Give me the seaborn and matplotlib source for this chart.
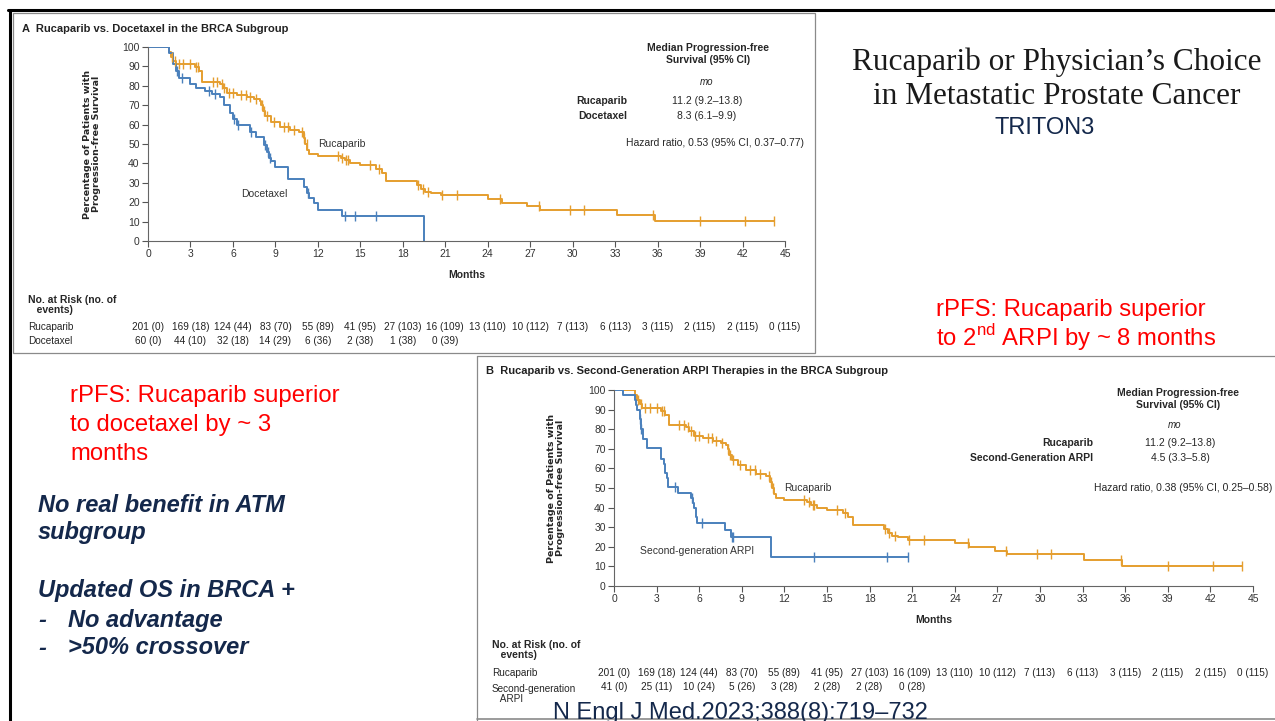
import numpy as np
import pandas as pd
import matplotlib
matplotlib.use("Agg")
import matplotlib.pyplot as plt
import matplotlib.transforms as mtransforms
from matplotlib.lines import Line2D
from matplotlib.patches import Rectangle
import seaborn as sns

# ---------------- data ----------------
months_ticks = list(range(0, 46, 3))
pct_ticks = list(range(0, 101, 10))

# Rucaparib arm (same BRCA cohort in both panels): step times (months) and survival (%)
ruc_t = [0, 1.5, 1.6, 1.8, 2.0, 3.3, 3.6, 3.85, 5.1, 5.3, 5.6, 6.3, 7.0, 7.5, 7.9, 8.0,
         8.1, 8.3, 8.7, 9.3, 10.0, 10.7, 11.0, 11.1, 11.25, 11.4, 12.0, 13.6, 13.9, 14.3,
         15.0, 16.1, 16.5, 16.8, 19.0, 19.3, 19.6, 20.0, 20.7, 24.0, 25.0, 26.8, 27.7,
         33.1, 35.8, 44.2]
ruc_s = [100, 97.5, 95, 93, 91, 89.5, 87.5, 82, 81, 79, 76.5, 75.5, 74, 73, 72, 70,
         67, 64.5, 61.5, 59, 57, 56, 53, 50, 47, 45, 44, 43, 41.5, 40,
         39, 37, 35, 31, 29, 27, 25.5, 25, 23.5, 21.7, 19.8, 18.1, 16.1,
         13.5, 10.1, 10.1]
ruc_cens = [1.7, 1.9, 2.2, 2.5, 3.0, 3.4, 3.5, 4.6, 4.9, 5.2, 5.4, 5.7, 6.0, 6.6, 6.9,
            7.2, 7.6, 8.05, 8.2, 8.4, 8.9, 9.6, 9.9, 10.3, 10.9, 11.05, 11.2, 13.4, 13.7,
            14.0, 14.1, 15.7, 16.3, 19.1, 19.4, 19.8, 20.8, 21.8, 24.9, 27.6, 29.8, 30.8,
            35.7, 39.0, 42.2, 44.2]

# Docetaxel arm
doc_t = [0, 1.5, 1.8, 2.0, 2.2, 3.0, 3.4, 4.0, 4.5, 5.1, 5.4, 5.8, 6.0, 6.3, 7.2, 7.6,
         8.2, 8.4, 8.55, 8.7, 9.0, 9.9, 11.0, 11.2, 11.4, 11.7, 12.0, 13.7, 19.5]
doc_s = [100, 97, 91, 87.5, 84, 81, 79, 77.5, 76, 74, 70, 66, 63, 60, 56, 53.5,
         49.5, 46, 43, 41, 38, 32, 28, 25, 22, 19.5, 16, 12.8, 0]
doc_cens = [2.05, 2.4, 4.3, 4.7, 6.1, 6.35, 7.3, 8.3, 8.45, 8.6, 11.3, 13.9, 14.6, 16.1]

# Second-generation ARPI arm
arpi_t = [0, 0.6, 1.45, 1.55, 1.65, 1.8, 1.9, 2.05, 2.3, 3.3, 3.5, 3.6, 3.7, 3.8, 4.5,
          5.4, 5.55, 5.65, 5.75, 5.85, 7.8, 8.25, 11.05, 20.7]
arpi_s = [100, 97.5, 95, 92.5, 90, 85, 80, 75, 70.5, 65, 62.5, 57.5, 55, 50.5, 47.5,
          45, 42.5, 40, 35, 32, 28.5, 25, 15, 15]
arpi_cens = [1.8, 1.9, 4.3, 5.5, 6.2, 8.3, 8.4, 14.1, 19.2, 20.7]

# Number at risk (no. of events) at 0, 3, 6, ... months
risk_ruc = ["201 (0)", "169 (18)", "124 (44)", "83 (70)", "55 (89)", "41 (95)", "27 (103)",
            "16 (109)", "13 (110)", "10 (112)", "7 (113)", "6 (113)", "3 (115)", "2 (115)",
            "2 (115)", "0 (115)"]
risk_doc = ["60 (0)", "44 (10)", "32 (18)", "14 (29)", "6 (36)", "2 (38)", "1 (38)", "0 (39)"]
risk_arpi = ["41 (0)", "25 (11)", "10 (24)", "5 (26)", "3 (28)", "2 (28)", "2 (28)", "0 (28)"]

ORANGE = "#E59E2E"
BLUE = "#4A80BC"
NAVY = "#14284B"
RED = "#FF0000"

# ---------------- style ----------------
sns.set_style("ticks")
plt.rcParams["font.family"] = ["Liberation Sans Narrow", "Liberation Sans", "DejaVu Sans"]
NARROW = ["Liberation Sans Narrow", "Liberation Sans", "DejaVu Sans"]
ARIAL = ["Liberation Sans", "DejaVu Sans"]

W, H = 1275, 721
fig = plt.figure(figsize=(W / 100, H / 100), dpi=100)
fig.patch.set_facecolor("white")


def P(x, y):
    return x / W, 1 - y / H


def ftext(x, y, s, **kw):
    fx, fy = P(x, y)
    return fig.text(fx, fy, s, **kw)


def step_df(t, s):
    return pd.DataFrame({"months": t, "pct": s})


def cens_df(t, s, c):
    t = np.asarray(t)
    s = np.asarray(s)
    idx = np.searchsorted(t, np.asarray(c), side="right") - 1
    return pd.DataFrame({"months": c, "pct": s[idx]})


def km_axes(box, arms, table, labels, yl_x):
    x0, y0, x1, y1 = box
    fx0, fy1 = P(x0, y1)
    ax = fig.add_axes([fx0, fy1, (x1 - x0) / W, (y1 - y0) / H])
    for t, s, c, col in arms:
        sns.lineplot(data=step_df(t, s), x="months", y="pct", ax=ax, color=col,
                     drawstyle="steps-post", estimator=None, sort=False, lw=1.4)
        sns.scatterplot(data=cens_df(t, s, c), x="months", y="pct", ax=ax, color=col,
                        marker="|", s=45, linewidth=1.0, zorder=3)
    ax.set_xlim(0, 45)
    ax.set_ylim(0, 100)
    ax.set_xticks(months_ticks)
    ax.set_yticks(pct_ticks)
    ax.tick_params(direction="out", length=4, width=0.8, colors="#555555",
                   labelcolor="#333333", labelsize=7.5, pad=2)
    for lab in ax.get_xticklabels() + ax.get_yticklabels():
        lab.set_family(NARROW)
    sns.despine(ax=ax)
    for sp in ("left", "bottom"):
        ax.spines[sp].set_color("#666666")
        ax.spines[sp].set_linewidth(0.8)
    ax.set_xlabel("")
    ax.set_ylabel("")
    # axis titles
    ftext((x0 + x1) / 2, y1 + 34, "Months", ha="center", va="center",
          fontsize=7.5, weight="bold", family=NARROW)
    ftext(yl_x, (y0 + y1) / 2, "Percentage of Patients with\nProgression-free Survival",
          ha="center", va="center", rotation=90, fontsize=6.8, weight="bold",
          family="DejaVu Sans", linespacing=1.0)
    # number-at-risk table, one column per x tick
    tr = mtransforms.blended_transform_factory(ax.transData, fig.transFigure)
    for (rows, ypix) in table:
        for m, txt in zip(months_ticks, rows):
            ax.text(m, 1 - ypix / H, txt, transform=tr, ha="center", va="center",
                    fontsize=7.2, color="#222222", family=NARROW)
    for (x, y, s) in labels:
        ax.text(x, y, s, ha="left", va="center", fontsize=7.5, color="#333333",
                family=NARROW)
    return ax


# ---------------- slide frame ----------------
fig.add_artist(Line2D([P(8, 0)[0], 1], [P(0, 10)[1]] * 2, color="black", lw=2.2))
fig.add_artist(Line2D([P(10, 0)[0]] * 2, [P(0, 10)[1], 0], color="black", lw=2.2))
fig.add_artist(Rectangle(P(13, 353), (815 - 13) / W, (353 - 13) / H, fill=False,
                         edgecolor="#8a8a8a", lw=0.9))
fig.add_artist(Line2D([P(477, 0)[0]] * 2, [0, P(0, 356)[1]], color="#8a8a8a", lw=0.9))
fig.add_artist(Line2D([P(477, 0)[0], 1], [P(0, 356)[1]] * 2, color="#8a8a8a", lw=0.9))
fig.add_artist(Line2D([P(477, 0)[0], 1], [P(0, 719)[1]] * 2, color="#8a8a8a", lw=1.2))

# ---------------- panel A ----------------
ftext(22, 29, "A  Rucaparib vs. Docetaxel in the BRCA Subgroup", fontsize=8,
      weight="bold", va="center", family=NARROW, color="#222222")
axA = km_axes((148, 47, 785, 241),
              [(ruc_t, ruc_s, ruc_cens, ORANGE), (doc_t, doc_s, doc_cens, BLUE)],
              [(risk_ruc, 327), (risk_doc, 341)],
              [(12.0, 50, "Rucaparib"), (6.6, 24, "Docetaxel")], 92)
ftext(708, 54, "Median Progression-free\nSurvival (95% CI)", ha="center", va="center",
      fontsize=7.5, weight="bold", family=NARROW, linespacing=1.15)
ftext(707, 82, "mo", ha="center", va="center", fontsize=7, style="italic", family=NARROW)
ftext(627, 101, "Rucaparib", ha="right", va="center", fontsize=7.5, weight="bold", family=NARROW)
ftext(627, 116, "Docetaxel", ha="right", va="center", fontsize=7.5, weight="bold", family=NARROW)
ftext(707, 101, "11.2 (9.2–13.8)", ha="center", va="center", fontsize=7.5, family=NARROW)
ftext(707, 116, "8.3 (6.1–9.9)", ha="center", va="center", fontsize=7.5, family=NARROW)
ftext(804, 143, "Hazard ratio, 0.53 (95% CI, 0.37–0.77)", ha="right", va="center",
      fontsize=7.5, family=NARROW)
ftext(28, 305, "No. at Risk (no. of\n   events)", va="center", fontsize=7.5, weight="bold",
      family=NARROW, linespacing=1.1)
ftext(28, 327, "Rucaparib", va="center", fontsize=7.2, family=NARROW)
ftext(28, 341, "Docetaxel", va="center", fontsize=7.2, family=NARROW)

# ---------------- panel B ----------------
ftext(486, 371, "B  Rucaparib vs. Second-Generation ARPI Therapies in the BRCA Subgroup",
      fontsize=8, weight="bold", va="center", family=NARROW, color="#222222")
axB = km_axes((614, 390, 1253, 586),
              [(ruc_t, ruc_s, ruc_cens, ORANGE), (arpi_t, arpi_s, arpi_cens, BLUE)],
              [(risk_ruc, 673), (risk_arpi, 687)],
              [(12.0, 50, "Rucaparib"), (1.8, 18, "Second-generation ARPI")], 556)
ftext(1178, 399, "Median Progression-free\nSurvival (95% CI)", ha="center", va="center",
      fontsize=7.5, weight="bold", family=NARROW, linespacing=1.15)
ftext(1175, 425, "mo", ha="center", va="center", fontsize=7, style="italic", family=NARROW)
ftext(1093, 443, "Rucaparib", ha="right", va="center", fontsize=7.5, weight="bold", family=NARROW)
ftext(1093, 458, "Second-Generation ARPI", ha="right", va="center", fontsize=7.5,
      weight="bold", family=NARROW)
ftext(1180, 443, "11.2 (9.2–13.8)", ha="center", va="center", fontsize=7.5, family=NARROW)
ftext(1180, 458, "4.5 (3.3–5.8)", ha="center", va="center", fontsize=7.5, family=NARROW)
ftext(1272, 488, "Hazard ratio, 0.38 (95% CI, 0.25–0.58)", ha="right", va="center",
      fontsize=7.5, family=NARROW)
ftext(492, 650, "No. at Risk (no. of\n   events)", va="center", fontsize=7.5, weight="bold",
      family=NARROW, linespacing=1.1)
ftext(492, 673, "Rucaparib", va="center", fontsize=7.2, family=NARROW)
ftext(492, 694, "Second-generation\n   ARPI", va="center", fontsize=7.2, family=NARROW,
      linespacing=1.1)

# ---------------- slide text ----------------
SERIF = ["Liberation Serif", "DejaVu Serif"]
ftext(1057, 62, "Rucaparib or Physician’s Choice", ha="center", va="center",
      fontsize=22.5, family=SERIF, color="#1a1a1a")
ftext(1057, 97, "in Metastatic Prostate Cancer", ha="center", va="center",
      fontsize=22.5, family=SERIF, color="#1a1a1a")
ftext(1045, 128, "TRITON3", ha="center", va="center", fontsize=17, color=NAVY, family=ARIAL)
ftext(936, 310, "rPFS: Rucaparib superior", va="center", fontsize=17.2, color=RED,
      family=ARIAL)
ftext(936, 338, "to 2$^{\\mathregular{nd}}$ ARPI by ~ 8 months", va="center", fontsize=17.2,
      color=RED, family=ARIAL)
for yy, line in zip((396, 425, 454), ("rPFS: Rucaparib superior", "to docetaxel by ~ 3",
                                      "months")):
    ftext(70, yy, line, va="center", fontsize=17.2, color=RED, family=ARIAL)
BI = dict(va="center", fontsize=17, color=NAVY, weight="bold", style="italic", family=ARIAL)
ftext(38, 505, "No real benefit in ATM", **BI)
ftext(38, 533, "subgroup", **BI)
ftext(38, 591, "Updated OS in BRCA +", **BI)
ftext(38, 620, "-", **BI)
ftext(68, 620, "No advantage", **BI)
ftext(38, 648, "-", **BI)
ftext(68, 648, ">50% crossover", **BI)
ftext(553, 713, "N Engl J Med.2023;388(8):719–732", va="center", fontsize=17, color=NAVY,
      family=ARIAL)

fig.savefig("out.png", dpi=100)
